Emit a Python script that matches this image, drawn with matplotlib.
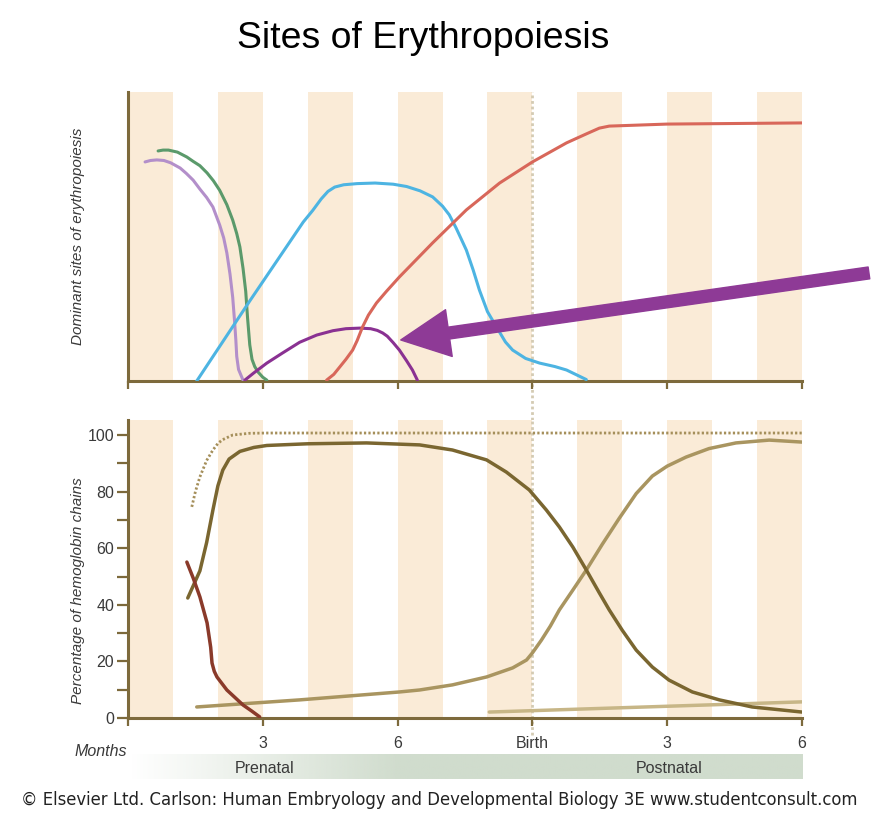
import numpy as np
import matplotlib
matplotlib.use('Agg')
import matplotlib.pyplot as plt
from matplotlib.colors import to_rgb

plt.rcParams['font.family'] = ['Liberation Sans', 'DejaVu Sans']

# x axis in months since conception, birth = 9
BIRTH = 9
tick_months = [0, 3, 6, 9, 12, 15]
tick_labels = ['', '3', '6', 'Birth', '3', '6']
stripe_starts = [0, 2, 4, 6, 8, 10, 12, 14]

# upper panel - dominant sites (relative units 0-100)
yolk_x = [0.38, 0.5, 0.64, 0.8, 0.95, 1.16, 1.3, 1.45, 1.6, 1.75, 1.89, 2.04, 2.13, 2.2,
          2.27, 2.33, 2.37, 2.4, 2.42, 2.46, 2.56]
yolk_y = [75.8, 76.3, 76.5, 76.3, 75.5, 73.7, 71.8, 69.5, 66.4, 63.5, 60.2, 54, 49.5, 44.3,
          37, 29, 21, 14.2, 8.5, 4, 0.3]
aorta_x = [0.67, 0.78, 0.9, 1.1, 1.31, 1.45, 1.6, 1.76, 1.9, 2.04, 2.2, 2.33, 2.42, 2.49,
           2.56, 2.62, 2.66, 2.71, 2.76, 2.82, 2.9, 3.0, 3.09]
aorta_y = [79.6, 79.9, 79.9, 79.2, 77.5, 76, 74.5, 72, 69.3, 66, 61, 55.7, 51, 46.4,
           39, 31, 22, 12.5, 7.5, 5, 3, 1.3, 0.3]
liver_x = [1.53, 2.71, 3.9, 4.11, 4.3, 4.45, 4.6, 4.8, 5.1, 5.5, 5.9, 6.2, 6.5, 6.78, 7.0,
           7.15, 7.3, 7.42, 7.53, 7.68, 7.82, 8.0, 8.2, 8.4, 8.56, 8.85, 9.16, 9.5,
           9.76, 10.0, 10.2]
liver_y = [0, 27.7, 55, 59, 63, 65.6, 67.1, 67.9, 68.3, 68.5, 68.1, 67.3, 65.8, 63.7, 60.5,
           57.5, 53, 49, 45.3, 38.5, 31.5, 24, 18.7, 13.5, 10.7, 7.8, 6.2, 5,
           3.8, 2, 0.5]
spleen_x = [2.6, 2.8, 3.09, 3.44, 3.82, 4.2, 4.56, 4.85, 5.16, 5.4, 5.55, 5.67, 5.77,
            5.9, 6.04, 6.2, 6.33, 6.44]
spleen_y = [0.3, 2.8, 6.2, 9.7, 13.4, 15.9, 17.4, 18.1, 18.3, 18.1, 17.5, 16.6, 15.5,
            13.3, 10.7, 7, 3.8, 0.3]
marrow_x = [4.42, 4.58, 4.71, 4.85, 5.0, 5.1, 5.22, 5.35, 5.53, 5.75, 6.04, 6.78, 7.53,
            8.27, 9.0, 9.76, 10.2, 10.49, 10.71, 12.0, 15.0]
marrow_y = [0.3, 2.3, 4.8, 7.5, 10.7, 14, 18.7, 22.8, 27, 31, 36, 47.8, 59.2,
            68.5, 75.8, 82.4, 85.5, 87.5, 88.2, 88.9, 89.3]

# lower panel - percentage of hemoglobin chains
alpha_x = [1.42, 1.5, 1.6, 1.75, 1.89, 2.0, 2.1, 2.33, 2.7, 3.09, 15.0]
alpha_y = [74.6, 80, 85.2, 91, 94.7, 97, 98.3, 100, 100.6, 100.7, 100.7]
gamma_x = [1.33, 1.6, 1.75, 1.89, 2.0, 2.11, 2.25, 2.49, 2.8, 3.09, 4.0, 5.31, 6.49,
           7.22, 7.98, 8.42, 8.93, 9.31, 9.6, 9.9, 10.2, 10.49, 10.71, 11.0, 11.31,
           11.67, 12.04, 12.56, 13.16, 13.89, 15.0]
gamma_y = [42.4, 52, 62, 73.5, 82, 87.6, 91.5, 94.2, 95.6, 96.3, 96.9, 97.2, 96.5,
           94.7, 91.2, 86.9, 80.6, 73.5, 67.5, 60.4, 52.3, 44.2, 38.2, 31, 24,
           18, 13.4, 9.2, 6.4, 3.9, 2.1]
beta_x = [1.53, 3.82, 6.04, 6.49, 7.22, 7.98, 8.56, 8.87, 9.0, 9.2, 9.4, 9.6, 9.9, 10.2,
          10.56, 10.93, 11.31, 11.67, 12.0, 12.42, 12.93, 13.53, 14.27, 15.0]
beta_y = [3.9, 6.4, 9.2, 9.9, 11.7, 14.5, 17.7, 20.5, 23, 27.5, 32.5, 38.2, 45.2, 52.3,
          61.5, 70.5, 79.3, 85.5, 89, 92.2, 95.2, 97.2, 98.2, 97.5]
epsilon_x = [1.31, 1.45, 1.6, 1.76, 1.84, 1.87, 1.92, 1.98, 2.2, 2.56, 2.75, 2.93]
epsilon_y = [55.1, 49.5, 42.8, 33.6, 25, 19.4, 16.5, 14.5, 9.9, 4.6, 2.5, 0.4]
delta_x = [8.04, 15.0]
delta_y = [2.1, 5.7]

# arrow pointing at the spleen curve (tip, tail in top-panel data units)
arrow_tip = (6.07, 14.2)
arrow_tail = (16.49, 37.4)

AXIS_C = '#7d6a3c'
STRIPE_C = '#faebd7'
TEXT_C = '#3a3a3a'


def style_axes(ax, ytop):
    for s in ['top', 'right']:
        ax.spines[s].set_visible(False)
    for s in ['left', 'bottom']:
        ax.spines[s].set_color(AXIS_C)
        ax.spines[s].set_linewidth(2.2)
    ax.set_xlim(0, 15)
    ax.set_ylim(0, ytop)
    for x0 in stripe_starts:
        ax.axvspan(x0, x0 + 1, color=STRIPE_C, lw=0, zorder=0)
    ax.set_xticks(tick_months)
    ax.tick_params(axis='x', direction='out', length=6, width=1.6, color=AXIS_C,
                   labelsize=11.5, labelcolor=TEXT_C, pad=7)


fig = plt.figure(figsize=(8.71, 8.14), dpi=100)
W, H = 871, 814
left = 128 / W
width = (802 - 128) / W

# top panel
ax1 = fig.add_axes([left, 1 - 381 / H, width, (381 - 92) / H])
style_axes(ax1, 100)
ax1.set_xticklabels([])
ax1.set_yticks([])
ax1.plot([BIRTH, BIRTH], [-13.5, 100], color='#d4cbb3', lw=2.0,
         linestyle=(0, (1, 1)), clip_on=False, zorder=1)
lw_top = 2.2
kw = dict(lw=lw_top, solid_joinstyle='round', solid_capstyle='round', zorder=3)
ax1.plot(yolk_x, yolk_y, color='#b38fca', **kw)
ax1.plot(aorta_x, aorta_y, color='#5b9a6b', **kw)
ax1.plot(liver_x, liver_y, color='#4db4e2', **kw)
ax1.plot(spleen_x, spleen_y, color='#8a3192', **kw)
ax1.plot(marrow_x, marrow_y, color='#d8675a', **kw)
ax1.annotate('', xy=arrow_tip, xytext=arrow_tail, annotation_clip=False,
             arrowprops=dict(arrowstyle='simple,head_length=35,head_width=34,tail_width=8.6',
                             mutation_scale=1, color='#8e3a96', shrinkA=0, shrinkB=0),
             zorder=10)

# bottom panel
ytop2 = (718 - 420) / 2.83
ax2 = fig.add_axes([left, 1 - 718 / H, width, (718 - 420) / H])
style_axes(ax2, ytop2)
ax2.set_xticklabels(tick_labels)
ax2.set_yticks([0, 20, 40, 60, 80, 100])
ax2.set_yticks([10, 30, 50, 70, 90], minor=True)
ax2.tick_params(axis='y', which='both', direction='out', length=8, width=1.6, color=AXIS_C,
                labelsize=11.5, labelcolor=TEXT_C, pad=2)
ax2.plot([BIRTH, BIRTH], [-6, ytop2], color='#d4cbb3', lw=2.0,
         linestyle=(0, (1, 1)), clip_on=False, zorder=1)
kw2 = dict(lw=2.5, solid_joinstyle='round', solid_capstyle='round')
ax2.plot(alpha_x, alpha_y, color='#a58f5a', lw=2.0, linestyle=(0, (0.8, 0.8)), zorder=3)
ax2.plot(delta_x, delta_y, color='#c7b687', zorder=3, **kw2)
ax2.plot(beta_x, beta_y, color='#a99560', zorder=3, **kw2)
ax2.plot(gamma_x, gamma_y, color='#7a6630', zorder=4, **kw2)
ax2.plot(epsilon_x, epsilon_y, color='#8a3a2a', zorder=4, **kw2)

# prenatal / postnatal band with fade-in on the left
axb = fig.add_axes([130 / W, 1 - 779 / H, (802 - 130) / W, 25 / H])
grad = np.zeros((1, 300, 4))
grad[0, :, :3] = to_rgb('#d0dccd')
grad[0, :, 3] = np.clip(np.linspace(0, 15, 300) / 6.0, 0, 1)
axb.imshow(grad, extent=(0, 15, 0, 1), aspect='auto', interpolation='bilinear')
axb.set_xlim(0, 15)
axb.set_ylim(0, 1)
axb.axis('off')
axb.text(3, 0.42, 'Prenatal', ha='center', va='center', fontsize=11.5, color=TEXT_C)
axb.text(12.04, 0.42, 'Postnatal', ha='center', va='center', fontsize=11.5, color=TEXT_C)

# texts
fig.text(423 / W, 1 - 38 / H, 'Sites of Erythropoiesis', ha='center', va='center',
         fontsize=26.9, color='black')
fig.text(78 / W, 1 - 236 / H, 'Dominant sites of erythropoiesis', rotation=90,
         ha='center', va='center', fontsize=11, style='italic', color=TEXT_C)
fig.text(78 / W, 1 - 591 / H, 'Percentage of hemoglobin chains', rotation=90,
         ha='center', va='center', fontsize=11, style='italic', color=TEXT_C)
fig.text(101 / W, 1 - 752 / H, 'Months', ha='center', va='center', fontsize=11.5,
         style='italic', color=TEXT_C)
fig.text(439 / W, 1 - 800 / H,
         '\u00a9 Elsevier Ltd. Carlson: Human Embryology and Developmental Biology 3E www.studentconsult.com',
         ha='center', va='center', fontsize=11.9, color='#222222', family='DejaVu Sans')

fig.savefig('out.png', dpi=100)
